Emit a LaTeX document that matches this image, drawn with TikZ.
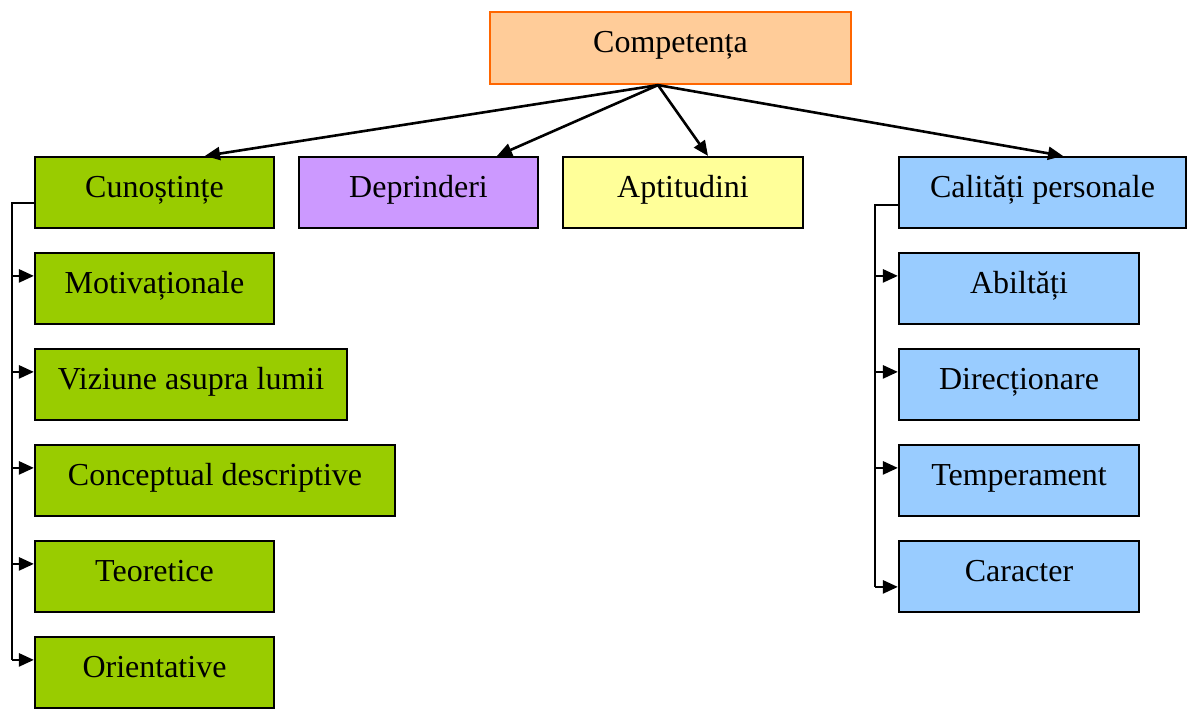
\documentclass[tikz,border=0pt]{standalone}
\usepackage{fontspec}
\setmainfont{Liberation Serif}
\usepackage{xcolor}
\usetikzlibrary{arrows.meta}

\definecolor{compfill}{HTML}{FFCC99}
\definecolor{compline}{HTML}{FF6600}
\definecolor{cungreen}{HTML}{99CC00}
\definecolor{depviolet}{HTML}{CC99FF}
\definecolor{aptyellow}{HTML}{FFFF99}
\definecolor{calblue}{HTML}{99CCFF}

\begin{document}
\begin{tikzpicture}[x=1pt,y=-1pt,
  box/.style={draw, line width=2.2pt, inner sep=0pt, minimum height=71pt,
    text height=20pt, text depth=11pt, font=\fontsize{32}{38}\selectfont},
  arr/.style={line width=2.6pt, -{Triangle[length=15pt,width=13pt]}},
  wire/.style={line width=2.6pt}]
\useasboundingbox (0,0) rectangle (1187,713);

% top
\node[box, draw=compline, fill=compfill, minimum width=361pt, minimum height=72pt] (comp) at (670.5,48) {Competența};

% second row
\node[box, fill=cungreen, minimum width=239pt] (cun) at (154.5,192.5) {Cunoștințe};
\node[box, fill=depviolet, minimum width=239pt] (dep) at (418.5,192.5) {Deprinderi};
\node[box, fill=aptyellow, minimum width=240pt] (apt) at (683,192.5) {Aptitudini};
\node[box, fill=calblue, minimum width=287pt] (cal) at (1042.5,192.5) {Calități personale};

% cunostinte
\node[box, fill=cungreen, minimum width=239pt] (mot) at (154.5,288.5) {Motivaționale};
\node[box, fill=cungreen, minimum width=312pt] (viz) at (191,384.5) {Viziune asupra lumii};
\node[box, fill=cungreen, minimum width=360pt] (con) at (215,480.5) {Conceptual descriptive};
\node[box, fill=cungreen, minimum width=239pt] (teo) at (154.5,576.5) {Teoretice};
\node[box, fill=cungreen, minimum width=239pt] (ori) at (154.5,672.5) {Orientative};

% calitati
\node[box, fill=calblue, minimum width=240pt] (abi) at (1019,288.5) {Abiltăți};
\node[box, fill=calblue, minimum width=240pt] (dir) at (1019,384.5) {Direcționare};
\node[box, fill=calblue, minimum width=240pt] (tem) at (1019,480.5) {Temperament};
\node[box, fill=calblue, minimum width=240pt] (car) at (1019,576.5) {Caracter};

% arrows from the top
\coordinate (hub) at ([xshift=-12.5pt]comp.south);
\draw[arr] (hub) -- ([xshift=50.5pt]cun.north);
\draw[arr] (hub) -- ([xshift=78.5pt]dep.north);
\draw[arr] (hub) -- ([xshift=25pt]apt.north);
\draw[arr] (hub) -- ([xshift=20.5pt]cal.north);

% entry points on the left side of the boxes
\foreach \c in {mot,viz,con,teo,ori,abi,dir,tem}
  \coordinate (\c-in) at ([yshift=-24pt]\c.north west);
\coordinate (car-in) at ([yshift=-47pt]car.north west);

% left bracket
\coordinate (lb) at (12,203);
\draw[wire] ([yshift=-10.5pt]cun.west) -- (lb) -- (lb |- ori-in);
\foreach \c in {mot,viz,con,teo,ori}
  \draw[arr] (lb |- \c-in) -- (\c-in);

% right bracket
\coordinate (rb) at (875,205);
\draw[wire] ([yshift=-12.5pt]cal.west) -- (rb) -- (rb |- car-in);
\foreach \c in {abi,dir,tem,car}
  \draw[arr] (rb |- \c-in) -- (\c-in);
\end{tikzpicture}
\end{document}
